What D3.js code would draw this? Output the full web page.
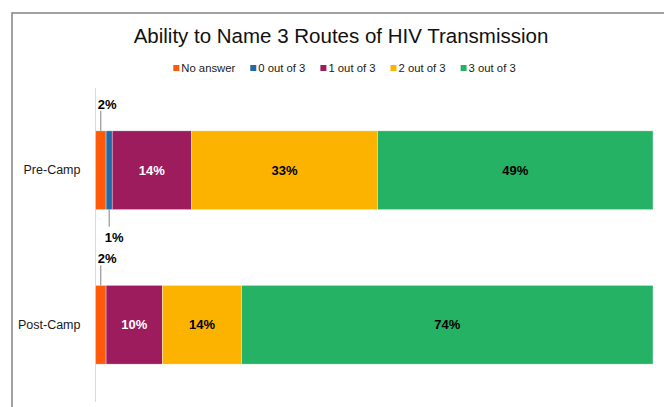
<!DOCTYPE html>
<html>
<head>
<meta charset="utf-8">
<script src="https://cdn.jsdelivr.net/npm/d3@7"></script>
<style>
  body { margin: 0; background: #fff; }
  svg { display: block; font-family: "Liberation Sans", Arial, sans-serif; }
</style>
</head>
<body>
<div id="chart"></div>
<script>
// chart data
var groups = ["Pre-Camp", "Post-Camp"];
var seriesNames = ["No answer", "0 out of 3", "1 out of 3", "2 out of 3", "3 out of 3"];
var seriesColors = ["#ff5a0a", "#1f69a5", "#9c1c5d", "#fbb300", "#26b264"];
var preCamp = [1.9, 1.1, 14.2, 33.4, 49.4];
var postCamp = [1.9, 0, 10.1, 14.2, 73.8];
var labelColors = ["#000", "#000", "#fff", "#000", "#000"];

var svgWidth = 664;
var svgHeight = 407;

var svg = d3.select("#chart")
  .append("svg")
  .attr("width", svgWidth)
  .attr("height", svgHeight);

// outer chart frame (runs past the right and bottom edge)
svg.append("rect")
  .attr("x", 12)
  .attr("y", 13)
  .attr("width", 700)
  .attr("height", 430)
  .attr("fill", "none")
  .attr("stroke", "#8a8a8a")
  .attr("stroke-width", 1.6);

// title
svg.append("text")
  .attr("x", 341)
  .attr("y", 43)
  .attr("text-anchor", "middle")
  .style("font-size", "20.5px")
  .attr("fill", "#111")
  .text("Ability to Name 3 Routes of HIV Transmission");

// legend, centred under the title
var legend = svg.append("g");
var lx = 0;
seriesNames.forEach(function(name, i) {
  var item = legend.append("g").attr("transform", `translate(${lx}, 0)`);
  item.append("rect")
    .attr("x", 0)
    .attr("y", -6.5)
    .attr("width", 6)
    .attr("height", 6)
    .attr("fill", seriesColors[i]);
  var t = item.append("text")
    .attr("x", 8)
    .attr("y", 0)
    .style("font-size", "11.3px")
    .attr("fill", "#1a1a1a")
    .text(name);
  lx += 8 + t.node().getComputedTextLength() + 15;
});
var legendWidth = lx - 15;
legend.attr("transform", `translate(${344.5 - legendWidth / 2}, 71.5)`);

// scales
var xScale = d3.scaleLinear()
  .domain([0, 100])
  .range([95.5, 653]);

var yScale = d3.scaleBand()
  .domain(groups)
  .range([93, 402])
  .paddingInner(0.49)
  .paddingOuter(0.245);

// category axis (left)
var leftAxis = d3.axisLeft(yScale).tickSize(0).tickPadding(15);
var yAxis = svg.append("g")
  .attr("transform", `translate(${xScale(0)}, 0)`)
  .call(leftAxis);
yAxis.select(".domain").remove();
yAxis.selectAll("text")
  .style("font-size", "12.5px")
  .style("font-family", "'Liberation Sans', Arial, sans-serif")
  .attr("fill", "#1a1a1a");

// vertical axis line
svg.append("line")
  .attr("x1", xScale(0))
  .attr("x2", xScale(0))
  .attr("y1", 88)
  .attr("y2", 402)
  .attr("stroke", "#d9d9d9")
  .attr("stroke-width", 1);

// build stacked segments
var rows = [preCamp, postCamp];
var segments = [];
rows.forEach(function(vals, r) {
  var start = 0;
  vals.forEach(function(v, i) {
    segments.push({group: groups[r], series: i, x0: start, x1: start + v, value: v});
    start += v;
  });
});

svg.selectAll("rect.seg")
  .data(segments.filter(d => d.value > 0))
  .enter()
  .append("rect")
  .attr("class", "seg")
  .attr("x", d => xScale(d.x0))
  .attr("width", d => xScale(d.x1) - xScale(d.x0))
  .attr("y", d => yScale(d.group))
  .attr("height", yScale.bandwidth())
  .attr("fill", d => seriesColors[d.series])
  .attr("stroke", "#fff")
  .attr("stroke-opacity", 0.6)
  .attr("stroke-width", 0.6);

// labels inside the wide segments
var big = segments.filter(d => d.value >= 5);
svg.selectAll("text.inlabel")
  .data(big)
  .enter()
  .append("text")
  .attr("class", "inlabel")
  .attr("x", d => xScale((d.x0 + d.x1) / 2))
  .attr("y", d => yScale(d.group) + yScale.bandwidth() / 2)
  .attr("dy", "0.36em")
  .attr("text-anchor", "middle")
  .style("font-size", "13px")
  .style("font-weight", "bold")
  .attr("fill", d => labelColors[d.series])
  .text(d => Math.round(d.value) + "%");

// callout labels for the thin segments: first one above, second one below
var small = segments.filter(d => d.value > 0 && d.value < 5);
small.forEach(function(d) {
  var cx = xScale((d.x0 + d.x1) / 2);
  var top = yScale(d.group);
  var bottom = top + yScale.bandwidth();
  var above = d.series === 0;
  svg.append("line")
    .attr("x1", cx)
    .attr("x2", cx)
    .attr("y1", above ? top - 20 : bottom)
    .attr("y2", above ? top : bottom + 17)
    .attr("stroke", "#7f7f7f")
    .attr("stroke-width", 1);
  svg.append("text")
    .attr("x", above ? cx - 3 : cx - 4.5)
    .attr("y", above ? top - 22 : bottom + 32)
    .style("font-size", "13px")
    .style("font-weight", "bold")
    .attr("fill", "#000")
    .text(Math.round(d.value) + "%");
});
</script>
</body>
</html>
